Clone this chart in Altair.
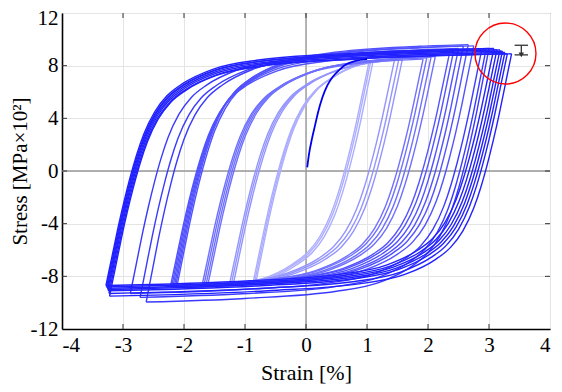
import altair as alt
import numpy as np
import pandas as pd

# ---------------- data ----------------
x_ticks = [-4, -3, -2, -1, 0, 1, 2, 3, 4]
y_ticks = [-12, -8, -4, 0, 4, 8, 12]

level_names = ["L1", "L2", "L3", "L4", "L5", "L6"]
level_colors = ["#adadff", "#9494ff", "#7070ff", "#5252ff", "#3a3aff", "#2121ff"]

# shape of a reversal branch (strain change after reversal -> stress change)
master_de = [0, 0.1, 0.2, 0.3, 0.4, 0.5, 0.62, 0.8, 1.0, 1.25, 1.75, 2.5, 4.0, 6.6]
master_ds = [0, 2.2, 4.4, 6.4, 8.2, 9.8, 11.4, 13.1, 14.3, 15.2, 16.3, 17.0, 17.5, 17.9]

# individual cycles (drawn light to dark)
loop_level = (["L1"] * 3 + ["L2"] * 3 + ["L3"] * 4 + ["L4"] * 6 + ["L5"] * 3 + ["L6"] * 7)
loop_emin = [-0.86, -0.84, -0.82,
             -1.25, -1.22, -1.19,
             -1.70, -1.67, -1.64, -1.61,
             -2.22, -2.20, -2.18, -2.16, -2.14, -2.12,
             -2.88, -2.72, -2.62,
             -3.28, -3.27, -3.26, -3.25, -3.24, -3.23, -3.22]
loop_emax = [1.03, 1.06, 1.10,
             1.45, 1.52, 1.58,
             1.92, 1.98, 2.05, 2.12,
             2.35, 2.42, 2.50, 2.58, 2.66, 2.75,
             2.88, 2.95, 3.00,
             3.08, 3.13, 3.18, 3.22, 3.26, 3.30, 3.37]
loop_smin = [-8.30, -8.35, -8.40,
             -8.50, -8.50, -8.55,
             -8.60, -8.60, -8.65, -8.65,
             -8.70, -8.70, -8.75, -8.80, -8.80, -8.85,
             -9.30, -9.60, -9.95,
             -8.70, -8.80, -8.90, -9.00, -9.10, -9.30, -9.50]
loop_smax = [8.20, 8.30, 8.35,
             8.40, 8.45, 8.50,
             8.50, 8.60, 8.65, 8.70,
             8.90, 9.10, 9.30, 9.50, 9.60, 9.50,
             9.20, 9.20, 9.30,
             9.30, 9.20, 9.20, 9.10, 9.00, 8.90, 8.90]

# initial loading curve
init_e = [0.02, 0.05, 0.10, 0.15, 0.20, 0.27, 0.35, 0.43, 0.55, 0.66, 0.80, 1.00]
init_s = [0.27, 1.30, 2.50, 3.50, 4.50, 5.60, 6.50, 7.10, 7.70, 8.10, 8.35, 8.50]

# annotation
circle_e, circle_s = [3.27], [8.92]
marker_e1, marker_e2 = [3.42], [3.64]
marker_top, marker_bot = [9.55], [8.82]
marker_mid = [3.53]

# ---------------- build tables ----------------
rows = []
mde = np.array(master_de)
mds = np.array(master_ds)
for i, (lv, e0, e1, s0, s1) in enumerate(zip(loop_level, loop_emin, loop_emax, loop_smin, loop_smax)):
    R = e1 - e0
    k = (s1 - s0) / np.interp(R, mde, mds)
    sel = mde < R
    for de, ds in zip(mde[sel], mds[sel]):
        rows.append(dict(strain=e0 + de, stress=s0 + k * ds, level=lv, branch=f"{i:02d}a"))
    rows.append(dict(strain=e1, stress=s1, level=lv, branch=f"{i:02d}a"))
    for de, ds in zip(mde[sel], mds[sel]):
        rows.append(dict(strain=e1 - de, stress=s1 - k * ds, level=lv, branch=f"{i:02d}d"))
    rows.append(dict(strain=e0, stress=s0, level=lv, branch=f"{i:02d}d"))
loops = pd.DataFrame(rows)
init_df = pd.DataFrame(dict(strain=init_e, stress=init_s))

W, H = 488, 316
FONT = "Liberation Serif"
xs = alt.Scale(domain=[-4, 4], nice=False, zero=False)
ys = alt.Scale(domain=[-12, 12], nice=False, zero=False)
x_axis = alt.Axis(values=x_ticks, title="Strain [%]", grid=True, ticks=False,
                  labelExpr="'' + datum.value", labelPadding=5, titlePadding=7,
                  titleFontSize=22)
y_axis = alt.Axis(values=y_ticks, title="Stress [MPa×10²]", grid=True, ticks=False,
                  labelExpr="'' + datum.value", labelPadding=4, titlePadding=0,
                  titleFontSize=21,
                  labelOffset={"condition": {"test": "datum.value == 12", "value": 5}, "value": 0})


def X(f):
    return alt.X(f, type="quantitative", scale=xs, axis=x_axis, title="Strain [%]")


def Y(f):
    return alt.Y(f, type="quantitative", scale=ys, axis=y_axis, title="Stress [MPa×10²]")


main = alt.Chart(loops).mark_line(strokeWidth=1.4, interpolate="monotone").encode(
    x=X("strain"),
    y=Y("stress"),
    color=alt.Color("level:N", scale=alt.Scale(domain=level_names, range=level_colors), legend=None),
    detail="branch:N",
)

zero_x = alt.Chart(pd.DataFrame(dict(v=[0]))).mark_rule(color="#999999", strokeWidth=1.4).encode(x=X("v"))
zero_y = alt.Chart(pd.DataFrame(dict(v=[0]))).mark_rule(color="#999999", strokeWidth=1.4).encode(y=Y("v"))

tick_y = pd.DataFrame(dict(v=y_ticks[1:-1]))
tick_x = pd.DataFrame(dict(v=x_ticks[1:-1]))
tcol = "#333333"
ticks_l = alt.Chart(tick_y).mark_rule(color=tcol).encode(y=Y("v"), x=alt.value(0), x2=alt.value(5))
ticks_r = alt.Chart(tick_y).mark_rule(color=tcol).encode(y=Y("v"), x=alt.value(W - 5), x2=alt.value(W))
ticks_b = alt.Chart(tick_x).mark_rule(color=tcol).encode(x=X("v"), y=alt.value(H), y2=alt.value(H - 5))
ticks_t = alt.Chart(tick_x).mark_rule(color=tcol).encode(x=X("v"), y=alt.value(0), y2=alt.value(5))

init_line = alt.Chart(init_df).mark_line(color="#0000ee", strokeWidth=1.8, interpolate="monotone").encode(
    x=X("strain"), y=Y("stress"))

circ = alt.Chart(pd.DataFrame(dict(e=circle_e, s=circle_s))).mark_point(
    shape="circle", size=3720, color="#ff0000", strokeWidth=1.4, filled=False, opacity=1
).encode(x=X("e"), y=Y("s"))

mk = pd.DataFrame(dict(e1=marker_e1, e2=marker_e2, top=marker_top, bot=marker_bot, mid=marker_mid))
mcol = "#333333"
m_top = alt.Chart(mk).mark_rule(color=mcol, strokeWidth=1.3).encode(x=X("e1"), x2="e2", y=Y("top"))
m_bot = alt.Chart(mk).mark_rule(color=mcol, strokeWidth=1.3).encode(x=X("e1"), x2="e2", y=Y("bot"))
m_mid = alt.Chart(mk).mark_rule(color=mcol, strokeWidth=1.3).encode(x=X("mid"), y=Y("top"), y2="bot")
m_arr = alt.Chart(mk).mark_point(shape="triangle-down", size=30, filled=True, color=mcol, opacity=1).encode(
    x=X("mid"), y=Y("bot"))

chart = alt.layer(
    zero_x, zero_y, main, ticks_l, ticks_r, ticks_b, ticks_t, init_line, circ, m_top, m_bot, m_mid, m_arr
).properties(
    width=W, height=H, autosize="none",
    padding={"left": 54, "top": 5, "right": 4, "bottom": 60},
    background="white",
).configure_view(
    stroke="#444444", strokeWidth=1
).configure_axis(
    labelFont=FONT, labelFontSize=21, labelColor="black",
    titleFont=FONT, titleFontWeight="normal", titleColor="black",
    gridColor="#e4e4e4", gridWidth=1, domainColor="black", domainWidth=1.6,
)

chart.save("out.html", embed_options={"renderer": "svg", "actions": False})
